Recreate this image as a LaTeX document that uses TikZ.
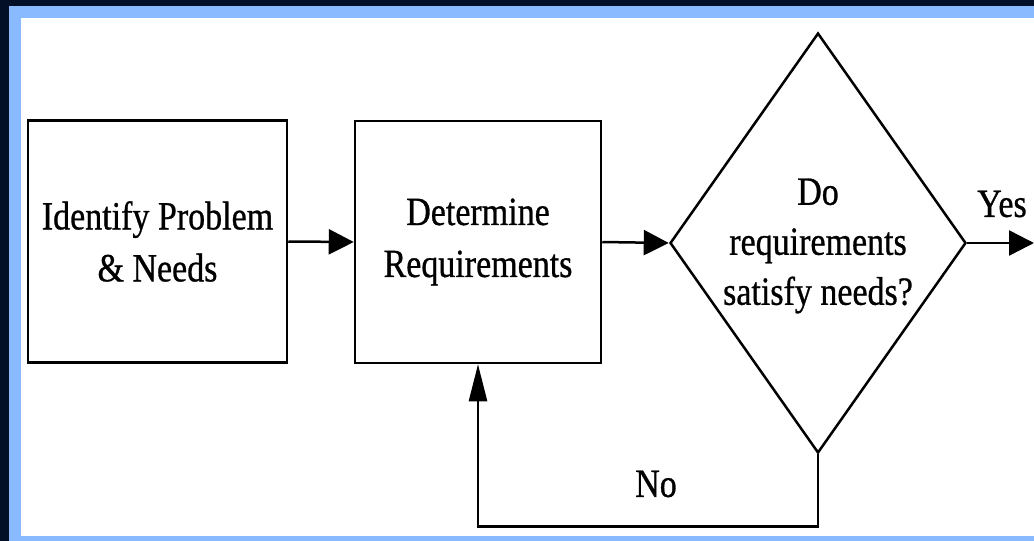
\documentclass[tikz,border=0pt]{standalone}
\usepackage{fontspec}
\setmainfont{Liberation Serif}[FakeStretch=0.85, FakeBold=0.7]
\usetikzlibrary{arrows.meta,shapes.geometric}
\definecolor{navy}{RGB}{2,15,38}
\definecolor{frameblue}{RGB}{137,185,255}
\tikzset{
  flowline/.style={line width=2.5pt, black},
  boxnode/.style={draw, flowline, rectangle, inner sep=0pt, align=center,
    font=\fontsize{40}{52}\selectfont},
  decision/.style={draw, flowline, diamond, inner sep=0pt},
  label/.style={align=center, inner sep=0pt, font=\fontsize{40}{50}\selectfont},
  harrow/.style={flowline, -{Triangle[length=25pt,width=25pt]}},
  varrow/.style={flowline, -{Triangle[length=37pt,width=18pt]}}
}
\begin{document}
\begin{tikzpicture}[x=1pt, y=-1pt]
  \useasboundingbox (0,0) rectangle (1034,541);
  % frame
  \fill[navy] (0,0) rectangle (1034,541);
  \fill[frameblue] (9,6) rectangle (1034,541);
  \fill[white] (21,18) rectangle (1034,536);

  % nodes
  \node[boxnode, minimum width=259pt, minimum height=242pt] (b1) at (157.5,241.5)
    {Identify Problem\\\& Needs};
  \node[boxnode, minimum width=246pt, minimum height=242pt] (b2) at (478,242)
    {Determine\\Requirements};
  \node[decision, minimum width=296pt, minimum height=420pt] (d) at (818,243) {};
  \node[label] (dtext) at (818,246) {Do\\requirements\\satisfy needs?};
  \node[label] (yes) at (1002,204) {Yes};
  \node[label] (no) at (656,484) {No};
  \coordinate (yesend) at (1034,243);

  % connectors
  \draw[harrow] (b1.east) -- (b2.west);
  \draw[harrow] (b2.east) -- (d.west);
  \draw[harrow] (d.east) -- (yesend);
  \draw[varrow] (d.south) -- ++(0,72) -| (b2.south);
\end{tikzpicture}
\end{document}
